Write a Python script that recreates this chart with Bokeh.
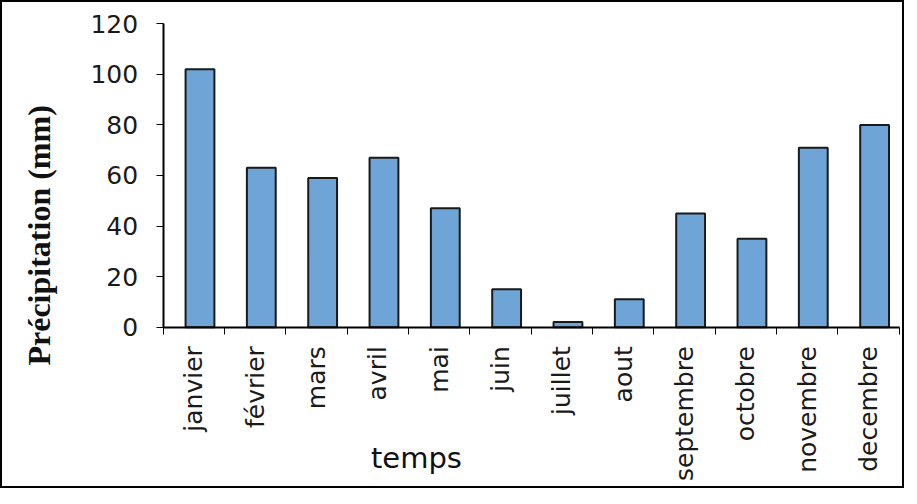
import math
from bokeh.plotting import figure
from bokeh.models import FixedTicker, Range1d, Label, ColumnDataSource, LinearAxis
from bokeh.embed import file_html
from bokeh.resources import INLINE

months = ["janvier", "février", "mars", "avril", "mai", "juin", "juillet",
          "aout", "septembre", "octobre", "novembre", "decembre"]
precip = [102, 63, 59, 67, 47, 15, 2, 11, 45, 35, 71, 80]
y_ticks = [0, 20, 40, 60, 80, 100, 120]

n = len(months)
centers = [i + 0.6 for i in range(n)]
src = ColumnDataSource(dict(x=centers, top=precip, month=months))

p = figure(width=904, height=488, output_backend="svg", toolbar_location=None,
           x_range=Range1d(-2.62, n + 0.12), y_range=Range1d(-64.6, 128.4),
           x_axis_location=None, y_axis_location=None, min_border=0)
p.styles = {"border": "2px solid black"}

p.vbar(x="x", top="top", width=0.47, source=src, fill_color="#6EA5D6",
       line_color="#1a1a1a", line_width=2)

p.grid.visible = False
p.outline_line_color = None

xaxis = LinearAxis(fixed_location=0, bounds=(0, n))
xaxis.ticker = FixedTicker(ticks=[i + 0.5 for i in range(n)], minor_ticks=list(range(n + 1)))
xaxis.major_label_overrides = {i + 0.5: m for i, m in enumerate(months)}
xaxis.major_label_orientation = math.pi / 2
xaxis.major_tick_line_color = None
xaxis.minor_tick_line_color = "black"
xaxis.minor_tick_out = 7
xaxis.minor_tick_in = 0
xaxis.major_label_standoff = 12
xaxis.major_label_text_font = "DejaVu Sans"
xaxis.major_label_text_font_size = "25px"
xaxis.major_label_text_color = "#1a1a1a"
xaxis.axis_line_width = 2
p.add_layout(xaxis, "below")

yaxis = LinearAxis(fixed_location=0, bounds=(0, 120))
yaxis.ticker = FixedTicker(ticks=y_ticks, minor_ticks=[])
yaxis.major_tick_out = 7
yaxis.major_tick_in = 0
yaxis.major_label_standoff = 18
yaxis.major_label_text_font = "DejaVu Sans"
yaxis.major_label_text_font_size = "25px"
yaxis.major_label_text_color = "#1a1a1a"
yaxis.axis_line_width = 2
p.add_layout(yaxis, "left")

p.add_layout(Label(x=-2.02, y=36.3, text="Précipitation (mm)", angle=math.pi / 2,
                   text_align="center", text_baseline="middle",
                   text_font="Liberation Serif", text_font_style="bold",
                   text_font_size="32px", text_color="#111111"))
p.add_layout(Label(x=4.13, y=-51.8, text="temps",
                   text_align="center", text_baseline="middle",
                   text_font="DejaVu Sans", text_font_size="29px",
                   text_color="#111111"))

open("out.html", "w").write(file_html(p, INLINE))
